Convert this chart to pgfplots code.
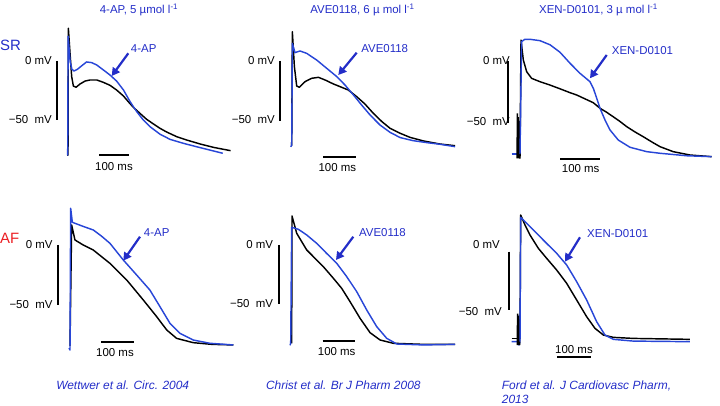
\documentclass[border=0pt]{standalone}
\usepackage{pgfplots}
\pgfplotsset{compat=1.18}
\usepackage{fontspec}
\setmainfont{Liberation Sans}
\usetikzlibrary{arrows.meta}
\definecolor{tblue}{RGB}{40,70,215}
\definecolor{xblue}{RGB}{35,45,200}
\definecolor{xred}{RGB}{235,30,35}
\newcommand\fs{\fontsize{11.5}{13}\selectfont}
\pgfplotsset{
  ap/.style={hide axis, clip=false, xmin=-50, xmax=560, ymin=-95, ymax=40, anchor=origin},
  bk/.style={black, line width=1.45bp, no marks, line join=round},
  bl/.style={tblue, line width=1.45bp, no marks, line join=round},
  art/.style={black, line width=1.6bp, no marks},
}
\begin{document}
\begin{tikzpicture}
\useasboundingbox (0,0) rectangle (720bp,406bp);
% ---------------- SR, 4-AP
\begin{axis}[ap, x=0.3bp, y=1.18bp, at={(67.7bp,345bp)}]
\addplot[bk] coordinates {(-2,-79.7)(1,-79.7)(2.2,27.7)(7.8,6.5)(13.3,-13.3)(18.9,-21.2)(27.8,-22.3)(41,-19.5)(58,-17)(74,-16.1)(97,-16.1)(119,-18.1)(141,-20.6)(163,-24.6)(186,-29.7)(202,-34.5)(219,-39.3)(241,-44.4)(263,-49.4)(286,-53.4)(308,-57.1)(330,-60.2)(363,-64.1)(397,-67)(441,-70.3)(486,-73.2)(543,-76)};
\addplot[bl] coordinates {(-1,-79.7)(0,-79.7)(1.5,21)(8,0)(14,-7)(21,-8.5)(32,-7.1)(47,-4)(63,-0.8)(80,-1.4)(97,-3.4)(119,-7.6)(141,-11.9)(163,-17)(186,-24.6)(208,-34.5)(230,-42.9)(252,-50)(274,-55.6)(308,-62.1)(341,-66.4)(386,-69.8)(441,-73.4)(517,-78.2)};
\end{axis}
% ---------------- SR, AVE0118
\begin{axis}[ap, x=0.3267bp, y=1.193bp, at={(291.7bp,345bp)}]
\addplot[bk] coordinates {(0,-71)(2,24.6)(8.2,-4.7)(15.3,-21)(23.5,-22)(41,-17.3)(61,-14.5)(82,-13.7)(102,-15.9)(128,-19.3)(148,-21.5)(173,-24.3)(199,-29.9)(224,-36)(250,-43.9)(276,-50.8)(301,-56.4)(332,-60.6)(362,-64)(403,-67)(454,-69.6)(500,-71)};
\addplot[bl] coordinates {(-3,-72)(-1,-71)(0,-71)(2,14.8)(10,7)(25.5,8.4)(46,6.4)(76.5,0.8)(107,-6.1)(138,-13.1)(163,-20.1)(189,-28.5)(214,-36.9)(240,-45.3)(270,-53.6)(301,-59.8)(332,-64.2)(372,-66.8)(413,-68.4)(454,-69.8)(500,-71.8)};
\end{axis}
% ---------------- SR, XEN-D0101
\begin{axis}[ap, x=0.4bp, y=1.247bp, at={(520bp,345bp)}]
\addplot[bl] coordinates {(-21,-74.6)(-1,-74.6)(0,-74.6)};
\addplot[art] coordinates {(-7,-78)(-6.5,-42)(-5.5,-78)(-4.5,-45)(-3.5,-78)(-2.5,-48)(-1.5,-78)};
\addplot[bk] coordinates {(-1,-78)(0,-78)(2.5,16.8)(8.3,0.8)(16.7,-8.6)(29,-13.9)(50,-16.6)(75,-19.3)(100,-22.3)(125,-25.4)(142,-27.3)(160,-30)(183,-33.4)(200,-37.9)(216,-41)(233,-44.7)(250,-48.5)(267,-52.7)(288,-57)(308,-60.7)(330,-65)(350,-68.7)(383,-72.7)(425,-75.4)(479,-76.7)};
\addplot[bl] coordinates {(0,-74.6)(4,15.5)(12,17.4)(25,17.4)(50,16.3)(75,13)(100,7)(125,-1.8)(150,-9.9)(175,-16.6)(184,-22.5)(191.75,-29.9)(200,-37.9)(212.5,-47.3)(225,-55.3)(245.75,-63.4)(275,-69.2)(316.75,-72.7)(350,-74)(417,-76)(479,-76.7)};
\end{axis}
% ---------------- AF, 4-AP
\begin{axis}[ap, x=0.33bp, y=1.2bp, at={(70bp,161bp)}]
\addplot[bk] coordinates {(0,-84)(5,16.7)(15,4.2)(40,0)(70.6,-4.2)(121,-15.3)(172,-29.2)(222,-45.8)(262.7,-59.7)(293,-70.8)(323,-77.8)(373.6,-81.4)(430,-82.8)(495,-83.3)};
\addplot[bl] coordinates {(-3,-86)(0,-87.5)(2,30.6)(7.1,19)(10,18.6)(40,15.5)(70.6,12.5)(95,7.5)(121,1.4)(161.5,-12.5)(202,-25)(242,-37.5)(272.7,-51.4)(303,-65.3)(333,-73.6)(373.6,-79.2)(424,-81.9)(495,-83.3)};
\end{axis}
% ---------------- AF, AVE0118
\begin{axis}[ap, x=0.3267bp, y=1.18bp, at={(290.7bp,161bp)}]
\addplot[bk] coordinates {(3,-83.3)(4,24.6)(18.4,9.9)(49,-4.2)(100,-18.4)(130.6,-28.2)(156,-36.7)(181.6,-48)(212.2,-62.1)(242.9,-74.3)(273.5,-80.5)(314.3,-83.3)(406,-84.2)(503,-84.2)};
\addplot[bl] coordinates {(-2,-85)(0,-83.3)(3,15)(23.5,13.3)(49,8.5)(79.6,1.4)(110,-7.1)(140.8,-15.5)(171.4,-26.8)(202,-39.5)(232.7,-55.1)(263.3,-69.2)(293.9,-79.1)(324.5,-83.9)(406,-84.7)(503,-84.2)};
\end{axis}
% ---------------- AF, XEN-D0101
\begin{axis}[ap, x=0.3333bp, y=1.167bp, at={(520bp,154.3bp)}]
\addplot[bl] coordinates {(-25,-77.1)(-3,-77.1)(-3,-55)(-3,-80)(0,-77.1)};
\addplot[bk] coordinates {(-25,-74.3)(-8,-74.3)};
\addplot[art] coordinates {(-8,-80)(-7,-53)(-6,-80)(-5,-55)(-4,-80)(-2.5,-58)(-1,-80)};
\addplot[bk] coordinates {(-1,-74.3)(0,-74.3)(2,31.4)(15,22.9)(30,14.3)(55,2.9)(80,-5.7)(110,-15.7)(140,-27.1)(170,-41.4)(200,-55.7)(225,-65.7)(250,-71.4)(280,-73.4)(340,-74.3)(510,-75.1)};
\addplot[bl] coordinates {(0,-77.1)(2,29.4)(20,24.3)(50,15.7)(80,7.1)(110,-1.4)(140,-11.4)(170,-25.7)(200,-41.4)(230,-60)(255,-71.4)(280,-75.1)(340,-76.6)(510,-77.1)};
\end{axis}
% ---------------- annotations in pixel coordinates
\begin{scope}[x=1bp, y=-1bp, yshift=406bp, font=\fs]
% titles
\node[anchor=base, text=xblue] at (139,14) {4-AP, 5 µmol l\textsuperscript{-1}};
\node[anchor=base, text=xblue] at (362.5,13.5) {AVE0118, 6 µ mol l\textsuperscript{-1}};
\node[anchor=base, text=xblue] at (598.5,13.5) {XEN-D0101, 3 µ mol l\textsuperscript{-1}};
% row labels
\node[anchor=west, text=xblue, font=\fontsize{15}{17}\selectfont, inner sep=0pt] at (0,45) {SR};
\node[anchor=west, text=xred, font=\fontsize{15}{17}\selectfont, inner sep=0pt] at (0,238) {AF};
% voltage labels
\foreach \xx/\ya/\yb in {52/61/120, 275/61/120, 510/61/122, 52.7/245/305, 273.3/245/304}{
  \node[anchor=east, inner sep=0pt] at (\xx,\ya) {0 mV};
  \node[anchor=east, inner sep=0pt] at (\xx,\yb) {−50~~mV};
}
\node[anchor=east, inner sep=0pt] at (500,245) {0 mV};
\node[anchor=east, inner sep=0pt] at (502,311.7) {−50~~mV};
% scale bars
\begin{scope}[line width=1.8bp]
\draw (56.7,61) -- (56.7,120);   \draw (99.3,155) -- (129,155);
\draw (280,61) -- (280,120.7);   \draw (323.3,157.3) -- (356,157.3);
\draw (508.3,61) -- (508.3,123.3); \draw (560,159.3) -- (600,159.3);
\draw (57.7,245) -- (57.7,305);  \draw (101,341.7) -- (134,341.7);
\draw (279.3,245) -- (279.3,304); \draw (322.7,341) -- (355.3,341);
\draw (509,251.7) -- (509,310);  \draw (557.3,356.7) -- (590.7,356.7);
\end{scope}
\node at (114,167) {100 ms};
\node at (337.3,167.5) {100 ms};
\node at (580.7,169) {100 ms};
\node at (115,352.5) {100 ms};
\node at (336.7,351.7) {100 ms};
\node at (574,349.5) {100 ms};
% drug labels and arrows
\begin{scope}[text=xblue]
\node at (143.7,49) {4-AP};
\node at (384.7,49) {AVE0118};
\node at (642.5,50.8) {XEN-D0101};
\node at (156.7,232.8) {4-AP};
\node at (382.5,232.8) {AVE0118};
\node at (617.8,233.8) {XEN-D0101};
\end{scope}
\begin{scope}[xblue, line width=2.2bp, -{Triangle[length=8bp,width=8.5bp]}]
\draw (128.3,53.3) -- (111.7,76);
\draw (356.7,52.7) -- (338.3,75);
\draw (606.7,55) -- (590,78.3);
\draw (140,236.7) -- (123.3,260.7);
\draw (353.3,236.7) -- (336,260);
\draw (580,237.3) -- (565,261.7);
\end{scope}
% citations
\begin{scope}[text=xblue, font=\fontsize{12}{14}\selectfont\itshape]
\node[anchor=base] at (122.7,390) {Wettwer et al. Circ. 2004};
\node[anchor=base] at (343.3,390) {Christ et al. Br J Pharm 2008};
\node[anchor=base west, inner sep=0pt] at (501.7,390) {Ford et al. J Cardiovasc Pharm,};
\node[anchor=base west, inner sep=0pt] at (501.7,403.5) {2013};
\end{scope}
\end{scope}
\end{tikzpicture}
\end{document}
